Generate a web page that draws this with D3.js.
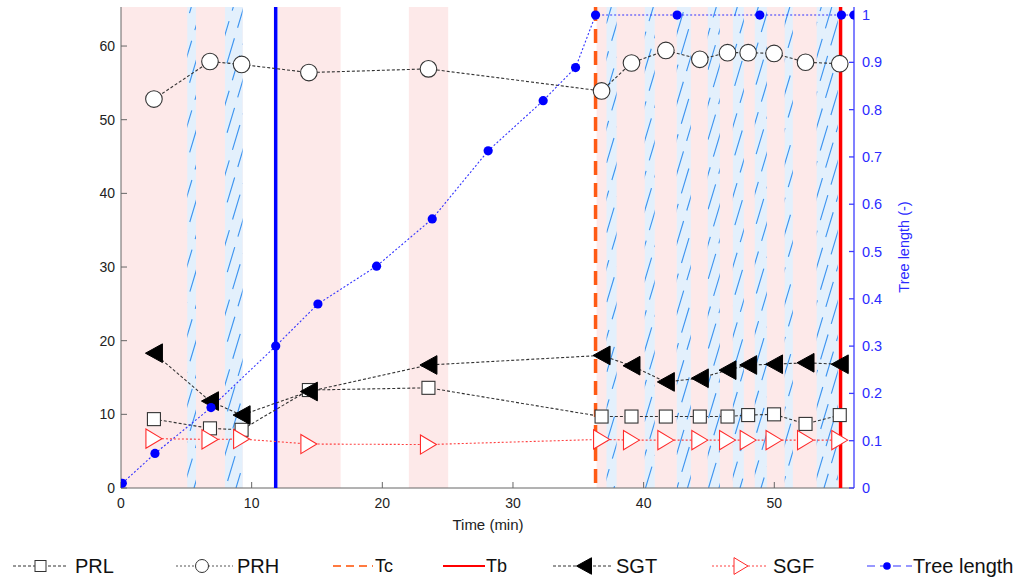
<!DOCTYPE html>
<html><head><meta charset="utf-8">
<script src="https://cdn.jsdelivr.net/npm/d3@7"></script>
<style>body{margin:0;background:#fff}svg{display:block;font-family:"Liberation Sans",Arial,sans-serif}</style>
</head><body><svg id="c" width="1025" height="581"></svg>
<script>
// ---- data ----
const times = [2.52, 6.81, 9.23, 14.38, 23.53, 36.78, 39.07, 41.70, 44.30, 46.42, 48.0, 49.98, 52.39, 55.01];
const PRL = [9.35, 8.1, 7.9, 13.3, 13.6, 9.7, 9.7, 9.7, 9.7, 9.7, 9.9, 10.0, 8.7, 9.9];
const PRH = [52.8, 57.9, 57.5, 56.4, 56.9, 53.9, 57.7, 59.4, 58.2, 59.1, 59.1, 59.0, 57.8, 57.6];
const SGT = [18.3, 11.8, 9.9, 13.1, 16.7, 18.0, 16.6, 14.4, 14.9, 16.0, 16.7, 16.8, 17.0, 16.8];
const SGF = [6.7, 6.6, 6.65, 5.97, 5.9, 6.6, 6.5, 6.5, 6.5, 6.5, 6.5, 6.5, 6.5, 6.5];
const treeTimes = [0.1, 2.6, 6.89, 11.84, 15.07, 19.56, 23.82, 28.1, 32.31, 34.79, 36.32, 42.56, 48.89, 55.14, 56.1];
const treeLen = [0.01, 0.073, 0.17, 0.30, 0.389, 0.469, 0.569, 0.713, 0.819, 0.889, 1.0, 1.0, 1.0, 1.0, 1.0];
const pinkBands = [[0, 9.31], [12.0, 16.81], [22.03, 25.04], [36.4, 54.86]];
const blueBands = [[5.07, 5.74], [7.96, 9.31], [37.16, 37.93], [40.09, 40.85], [42.54, 43.61], [44.91, 45.83], [46.83, 47.67], [48.51, 49.43], [50.80, 51.42], [53.25, 54.86]];
const Tline = 11.84, Tc = 36.32, Tb = 55.07;
const xTicks = [0, 10, 20, 30, 40, 50];
const yTicks = [0, 10, 20, 30, 40, 50, 60];
const y2Ticks = [0, 0.1, 0.2, 0.3, 0.4, 0.5, 0.6, 0.7, 0.8, 0.9, 1];

// ---- layout ----
const L = 121, R = 854, T = 7, B = 488;
const svg = d3.select("#c");
const x = d3.scaleLinear().domain([0, 56.1]).range([L, R]);
const y = d3.scaleLinear().domain([0, 65.3]).range([B, T]);
const y2 = d3.scaleLinear().domain([0, 1.017]).range([B, T]);

const defs = svg.append("defs");
defs.append("clipPath").attr("id", "plot").append("rect").attr("x", L).attr("y", T).attr("width", R - L).attr("height", B - T);
const bc = defs.append("clipPath").attr("id", "blue");
blueBands.forEach(b => bc.append("rect").attr("x", x(b[0])).attr("y", T).attr("width", x(b[1]) - x(b[0])).attr("height", B - T));

const g = svg.append("g");
g.selectAll(".pink").data(pinkBands).join("rect")
  .attr("x", d => x(d[0])).attr("y", T).attr("width", d => x(d[1]) - x(d[0])).attr("height", B - T)
  .attr("fill", "#fde9e9");
g.selectAll(".bb").data(blueBands).join("rect")
  .attr("x", d => x(d[0])).attr("y", T).attr("width", d => x(d[1]) - x(d[0])).attr("height", B - T)
  .attr("fill", "#e3f0fc");
// hatch
const hg = g.append("g").attr("clip-path", "url(#blue)");
const slope = 0.3, H = B - T;
for (let xs = L - 200; xs < R + 10; xs += 10.5) {
  hg.append("line").attr("x1", xs).attr("y1", B).attr("x2", xs + slope * H).attr("y2", T)
    .attr("stroke", "#3f95f0").attr("stroke-width", 1.15).attr("stroke-dasharray", "26 11")
    .attr("stroke-dashoffset", ((xs - L) * 1.7) % 37);
}

// axes
const axCol = "#666";
g.append("line").attr("x1", L).attr("x2", L).attr("y1", T).attr("y2", B).attr("stroke", axCol);
g.append("line").attr("x1", L).attr("x2", R).attr("y1", B).attr("y2", B).attr("stroke", axCol);
yTicks.forEach(t => {
  g.append("line").attr("x1", L).attr("x2", L + 6).attr("y1", y(t)).attr("y2", y(t)).attr("stroke", axCol);
  g.append("text").attr("x", L - 6).attr("y", y(t)).attr("dy", "0.35em").attr("text-anchor", "end")
    .attr("font-size", 14).attr("fill", "#222").text(t);
});
xTicks.forEach(t => {
  g.append("line").attr("x1", x(t)).attr("x2", x(t)).attr("y1", B).attr("y2", B - 6).attr("stroke", axCol);
  g.append("text").attr("x", x(t)).attr("y", B + 20).attr("text-anchor", "middle")
    .attr("font-size", 14).attr("fill", "#222").text(t);
});
g.append("text").attr("x", 488).attr("y", 530).attr("text-anchor", "middle").attr("font-size", 15).attr("fill", "#222").text("Time (min)");
const blueC = "#2b2bff";
g.append("line").attr("x1", R).attr("x2", R).attr("y1", T).attr("y2", B).attr("stroke", "#3c3cff").attr("stroke-width", 1.3);
y2Ticks.forEach(t => {
  g.append("line").attr("x1", R - 5).attr("x2", R).attr("y1", y2(t)).attr("y2", y2(t)).attr("stroke", "#3c3cff").attr("stroke-width", 1.3);
  g.append("text").attr("x", R + 8).attr("y", y2(t)).attr("dy", "0.35em").attr("font-size", 14.5).attr("fill", blueC).text(t);
});
g.append("text").attr("transform", `translate(${909},${247}) rotate(-90)`).attr("text-anchor", "middle")
  .attr("font-size", 14.5).attr("fill", blueC).text("Tree length (-)");

// vertical lines
const vg = g.append("g").attr("clip-path", "url(#plot)");
vg.append("line").attr("x1", x(Tline)).attr("x2", x(Tline)).attr("y1", T).attr("y2", B).attr("stroke", "#0000ff").attr("stroke-width", 3.5);
vg.append("line").attr("x1", x(Tc)).attr("x2", x(Tc)).attr("y1", T).attr("y2", B).attr("stroke", "#ff5a14").attr("stroke-width", 3.5).attr("stroke-dasharray", "14 8");
vg.append("line").attr("x1", x(Tb)).attr("x2", x(Tb)).attr("y1", T).attr("y2", B).attr("stroke", "#ff0000").attr("stroke-width", 3.5);

// series
const pg = g.append("g").attr("clip-path", "url(#plot)");
function path(xs, ys, sc, col, dash, w) {
  pg.append("path").datum(xs.map((t, i) => [t, ys[i]]))
    .attr("d", d3.line().x(d => x(d[0])).y(d => sc(d[1])))
    .attr("fill", "none").attr("stroke", col).attr("stroke-width", w || 1.1).attr("stroke-dasharray", dash);
}
const dk = "#333";
path(times, PRL, y, dk, "3 2");
path(times, PRH, y, dk, "3 2");
path(times, SGT, y, dk, "3 2");
path(times, SGF, y, "#ff4040", "2 2");
path(treeTimes, treeLen, y2, "#3333ff", "2 2");

const triL = (s) => `M${-s*0.5},0 L${s*0.5},${-s*0.55} L${s*0.5},${s*0.55} Z`;
const triR = (s) => `M${s*0.5},0 L${-s*0.5},${-s*0.6} L${-s*0.5},${s*0.6} Z`;
times.forEach((t, i) => {
  pg.append("rect").attr("x", x(t) - 6.5).attr("y", y(PRL[i]) - 6.5).attr("width", 13).attr("height", 13)
    .attr("fill", "#fff").attr("stroke", "#333").attr("stroke-width", 1.1);
  pg.append("circle").attr("cx", x(t)).attr("cy", y(PRH[i])).attr("r", 8.3)
    .attr("fill", "#fff").attr("stroke", "#333").attr("stroke-width", 1.1);
  pg.append("path").attr("d", triL(17)).attr("transform", `translate(${x(t)},${y(SGT[i])})`).attr("fill", "#000").attr("stroke", "#000");
  pg.append("path").attr("d", triR(16)).attr("transform", `translate(${x(t)},${y(SGF[i])})`).attr("fill", "#fff").attr("stroke", "#ff2a2a").attr("stroke-width", 1.1);
});
treeTimes.forEach((t, i) => {
  pg.append("circle").attr("cx", x(t)).attr("cy", y2(treeLen[i])).attr("r", 4.6).attr("fill", "#0000ff");
});

// legend
const legY = 566;
const lg = svg.append("g");
const fs = 20;
function legLine(x1, x2, col, dash, w) {
  lg.append("line").attr("x1", x1).attr("x2", x2).attr("y1", legY).attr("y2", legY).attr("stroke", col).attr("stroke-width", w).attr("stroke-dasharray", dash);
}
function legText(xp, txt, size) {
  lg.append("text").attr("x", xp).attr("y", legY).attr("dy", "0.36em").attr("font-size", size || fs).attr("fill", "#111").text(txt);
}
legLine(13, 68, dk, "3 2", 1);
lg.append("rect").attr("x", 35).attr("y", legY - 5.5).attr("width", 11).attr("height", 11).attr("fill", "#fff").attr("stroke", "#333");
legText(75, "PRL");
legLine(176, 233, "#555", "2 2", 1);
lg.append("circle").attr("cx", 202).attr("cy", legY).attr("r", 6.5).attr("fill", "#fff").attr("stroke", "#333");
legText(237, "PRH");
legLine(333, 373, "#ff7a40", "8 5", 2);
legText(375, "Tc", 18);
legLine(443, 485, "#ff0000", null, 2);
legText(486, "Tb", 18);
legLine(553, 613, dk, "3 2", 1);
lg.append("path").attr("d", triL(15)).attr("transform", `translate(584,${legY})`).attr("fill", "#000").attr("stroke", "#000");
legText(616, "SGT");
legLine(712, 767, "#ff4040", "2 2", 1);
lg.append("path").attr("d", triR(14)).attr("transform", `translate(741,${legY})`).attr("fill", "#fff").attr("stroke", "#ff2a2a");
legText(773, "SGF");
legLine(867, 912, "#3333ff", "8 5", 1.2);
lg.append("circle").attr("cx", 887).attr("cy", legY).attr("r", 3.8).attr("fill", "#0000ff");
legText(913, "Tree length");
</script></body></html>
